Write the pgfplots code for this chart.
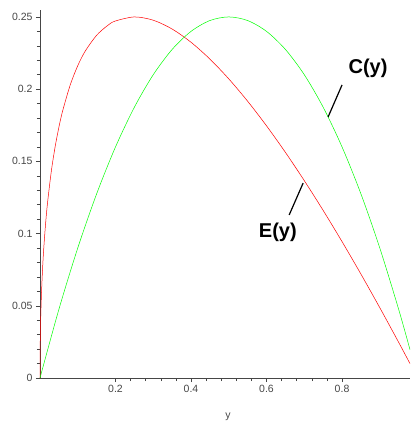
\documentclass[border=0pt]{standalone}
\usepackage{fontspec}
\setmainfont{Liberation Sans}
\usepackage{pgfplots}
\pgfplotsset{compat=1.18}
\definecolor{tickgray}{RGB}{70,70,70}
\begin{document}
\begin{tikzpicture}
\begin{axis}[
  scale only axis,
  width=370pt, height=368pt,
  xmin=0, xmax=0.98,
  ymin=0, ymax=0.2548,
  axis lines=left,
  axis line style={-, tickgray, line width=0.6pt},
  every tick/.style={tickgray, line width=0.5pt},
  tick align=outside,
  major tick length=4pt,
  minor tick length=3pt,
  xtick={0.2,0.4,0.6,0.8},
  xticklabels={0.2,0.4,0.6,0.8},
  ytick={0,0.05,0.1,0.15,0.2,0.25},
  yticklabels={0,0.05,0.1,0.15,0.2,0.25},
  minor x tick num=4,
  minor y tick num=4,
  /pgf/number format/assume math mode=true,
  tick label style={font=\fontsize{10.5}{12}\selectfont, text=tickgray},
  xlabel={y},
  xlabel style={at={(axis description cs:0.508,0)}, anchor=center, yshift=-39pt,
    font=\fontsize{10.5}{12}\selectfont, text=tickgray},
  clip=false,
]
% E(y)
\addplot[red, line width=0.5pt, smooth, tension=0.5] coordinates {
  (0,0) (0.0005,0.02186) (0.001,0.03062) (0.002,0.04272) (0.004,0.05925)
  (0.007,0.07667) (0.01,0.09) (0.015,0.10747) (0.02,0.12142) (0.03,0.14321)
  (0.04,0.16) (0.05,0.17361) (0.06,0.18495) (0.08,0.20284) (0.1,0.21623)
  (0.12,0.22641) (0.15,0.23730) (0.18,0.24426) (0.2,0.24721) (0.25,0.25)
  (0.3,0.24772) (0.35,0.24161) (0.4,0.23246) (0.45,0.22082) (0.5,0.20711)
  (0.55,0.19162) (0.6,0.17460) (0.65,0.15623) (0.7,0.13666) (0.75,0.11603)
  (0.8,0.09443) (0.85,0.07195) (0.9,0.04868) (0.95,0.02468) (0.98,0.00995)
};
% C(y)
\addplot[green, line width=0.5pt, smooth] coordinates {
  (0,0) (0.05,0.0475) (0.1,0.09) (0.15,0.1275) (0.2,0.16) (0.25,0.1875)
  (0.3,0.21) (0.35,0.2275) (0.4,0.24) (0.45,0.2475) (0.5,0.25) (0.55,0.2475)
  (0.6,0.24) (0.65,0.2275) (0.7,0.21) (0.75,0.1875) (0.8,0.16) (0.85,0.1275)
  (0.9,0.09) (0.95,0.0475) (0.98,0.0196)
};
\draw[black, line width=1.2pt] (axis cs:0.8,0.2029) -- (axis cs:0.763,0.1807);
\draw[black, line width=1.2pt] (axis cs:0.697,0.1350) -- (axis cs:0.660,0.1129);
\node[font=\fontsize{20}{24}\selectfont\bfseries] at (axis cs:0.869,0.2147) {C(y)};
\node[font=\fontsize{20}{24}\selectfont\bfseries] at (axis cs:0.630,0.1011) {E(y)};
\end{axis}
\pgfresetboundingbox
\path[use as bounding box] (-40pt,-45pt) rectangle (370pt,378pt);
\end{tikzpicture}
\end{document}
